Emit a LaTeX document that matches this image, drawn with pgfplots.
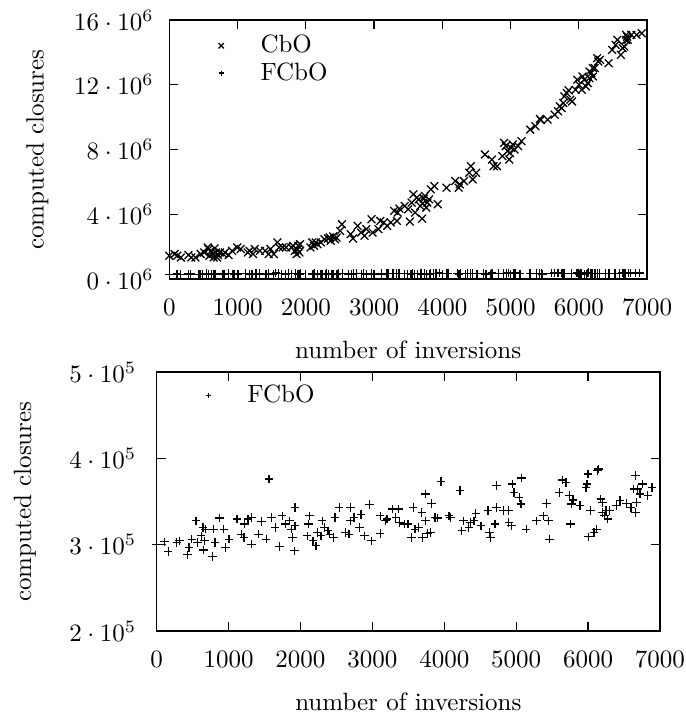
\documentclass[border=0pt]{standalone}
\usepackage{pgfplots}
\usepackage{pgfplotstable}
\pgfplotsset{compat=1.18}

% CbO: computed closures per instance (top panel)
\pgfplotstableread{
x y
0 1.44e6
77 1.54e6
118 1.44e6
169 1.33e6
281 1.48e6
322 1.33e6
383 1.33e6
460 1.54e6
511 1.64e6
562 1.95e6
577 1.85e6
588 1.44e6
613 1.74e6
639 1.54e6
649 1.33e6
664 1.89e6
680 1.64e6
700 1.33e6
715 1.48e6
741 1.64e6
792 1.54e6
817 1.64e6
869 1.48e6
920 1.74e6
996 1.95e6
1047 1.85e6
1150 1.64e6
1175 1.74e6
1226 1.54e6
1252 1.85e6
1328 1.74e6
1405 1.74e6
1456 1.54e6
1482 1.85e6
1533 1.54e6
1584 2.26e6
1609 1.95e6
1660 1.95e6
1712 1.95e6
1788 1.95e6
1814 2.05e6
1839 1.74e6
1865 1.54e6
1875 1.80e6
1890 2.05e6
1906 1.64e6
1916 2.15e6
2069 1.95e6
2095 2.26e6
2120 2.05e6
2146 2.26e6
2171 2.15e6
2222 2.26e6
2274 2.46e6
2325 2.50e6
2350 2.56e6
2365 2.36e6
2401 2.63e6
2427 2.46e6
2452 2.56e6
2503 2.97e6
2529 3.38e6
2657 2.77e6
2692 2.50e6
2759 3.28e6
2810 2.87e6
2861 2.67e6
2887 3.08e6
2963 3.69e6
2979 2.87e6
3065 3.08e6
3091 3.59e6
3142 3.49e6
3193 3.28e6
3244 3.49e6
3295 4.21e6
3336 3.59e6
3346 4.10e6
3372 4.35e6
3449 4.51e6
3500 4.31e6
3525 3.55e6
3551 4.72e6
3576 5.23e6
3602 4.10e6
3627 5.03e6
3653 4.92e6
3678 4.51e6
3704 3.73e6
3714 4.68e6
3730 4.96e6
3745 5.13e6
3765 4.41e6
3781 4.72e6
3806 4.92e6
3832 5.54e6
3883 5.74e6
3934 4.62e6
4062 5.64e6
4189 6.05e6
4240 5.64e6
4256 5.85e6
4317 6.05e6
4394 6.56e6
4419 6.97e6
4445 6.15e6
4496 6.56e6
4624 7.69e6
4726 7.38e6
4751 6.97e6
4802 6.97e6
4879 7.59e6
4905 8.41e6
4930 8.21e6
4956 7.90e6
4981 7.38e6
4991 7.79e6
5007 8.10e6
5032 8.31e6
5058 8.00e6
5109 8.21e6
5160 8.51e6
5288 9.23e6
5364 9.44e6
5431 9.89e6
5441 9.81e6
5543 9.85e6
5645 10.15e6
5697 10.36e6
5722 10.67e6
5748 10.56e6
5773 10.87e6
5788 11.28e6
5824 11.49e6
5850 11.65e6
5875 11.08e6
5901 10.97e6
5952 11.69e6
5978 12.31e6
6003 12.00e6
6044 11.69e6
6054 12.51e6
6080 12.31e6
6105 11.90e6
6131 12.10e6
6156 12.82e6
6156 12.41e6
6182 12.72e6
6207 12.51e6
6207 13.03e6
6233 13.03e6
6269 13.64e6
6284 13.44e6
6310 13.54e6
6437 13.33e6
6488 14.15e6
6540 14.46e6
6565 14.77e6
6616 13.85e6
6642 14.26e6
6667 14.36e6
6693 15.08e6
6693 14.77e6
6708 14.97e6
6718 14.77e6
6769 15.08e6
6846 15.08e6
6922 15.18e6
}\cbo

% FCbO: computed closures per instance (both panels)
\pgfplotstableread{
x y
0 3.006e5
111 3.033e5
160 2.921e5
280 3.026e5
314 3.045e5
425 2.882e5
450 2.967e5
488 3.064e5
546 3.277e5
570 3.026e5
619 3.103e5
643 3.200e5
653 2.937e5
667 3.045e5
682 3.180e5
778 2.863e5
788 3.180e5
812 3.026e5
870 3.308e5
933 3.180e5
957 2.967e5
1005 3.064e5
1117 3.297e5
1175 3.122e5
1213 3.084e5
1223 3.239e5
1271 3.297e5
1320 3.316e5
1320 3.006e5
1416 3.122e5
1455 3.269e5
1523 3.064e5
1561 3.761e5
1600 3.316e5
1648 3.200e5
1706 2.979e5
1745 3.335e5
1793 3.239e5
1851 3.277e5
1876 3.180e5
1890 3.084e5
1914 2.929e5
1924 3.432e5
1924 3.219e5
2093 3.103e5
2108 3.239e5
2127 3.335e5
2175 3.045e5
2214 2.987e5
2238 3.142e5
2287 3.103e5
2301 3.277e5
2335 3.200e5
2383 3.161e5
2407 3.122e5
2456 3.084e5
2480 3.316e5
2538 3.432e5
2625 3.142e5
2673 3.122e5
2697 3.432e5
2697 3.277e5
2746 3.316e5
2818 3.200e5
2842 3.347e5
2891 3.103e5
2963 3.463e5
2987 3.045e5
3108 3.335e5
3108 3.130e5
3181 3.277e5
3205 3.297e5
3277 3.413e5
3326 3.316e5
3364 3.413e5
3374 3.258e5
3447 3.239e5
3495 3.239e5
3543 3.084e5
3568 3.432e5
3592 3.180e5
3640 3.200e5
3688 3.374e5
3698 3.084e5
3737 3.277e5
3737 3.587e5
3766 3.130e5
3809 3.142e5
3824 3.479e5
3872 3.316e5
3906 3.308e5
3954 3.734e5
4065 3.335e5
4085 3.316e5
4220 3.626e5
4244 3.161e5
4268 3.277e5
4341 3.200e5
4365 3.258e5
4413 3.277e5
4438 3.362e5
4510 3.219e5
4607 3.393e5
4631 3.142e5
4641 3.084e5
4704 3.239e5
4728 3.432e5
4728 3.684e5
4824 3.393e5
4897 3.393e5
4897 3.258e5
4936 3.219e5
4945 3.703e5
4969 3.606e5
5042 3.548e5
5066 3.471e5
5076 3.773e5
5139 3.180e5
5284 3.277e5
5380 3.335e5
5419 3.479e5
5453 3.277e5
5467 3.064e5
5598 3.606e5
5646 3.750e5
5694 3.722e5
5743 3.568e5
5757 3.239e5
5767 3.471e5
5791 3.517e5
5888 3.451e5
5970 3.664e5
5985 3.703e5
5999 3.819e5
6009 3.091e5
6033 3.393e5
6081 3.142e5
6115 3.180e5
6130 3.858e5
6144 3.877e5
6178 3.529e5
6202 3.490e5
6202 3.374e5
6226 3.335e5
6250 3.393e5
6275 3.297e5
6299 3.393e5
6396 3.451e5
6444 3.509e5
6531 3.479e5
6598 3.432e5
6637 3.645e5
6661 3.800e5
6661 3.374e5
6676 3.490e5
6686 3.645e5
6724 3.587e5
6758 3.703e5
6831 3.568e5
6889 3.664e5
}\fcbo

\pgfplotsset{
  legmark/.style={legend image code/.code={\draw[##1, mark size=#1] plot coordinates {(0pt,0pt)};}},
  gp/.style={
    scale only axis,
    xmin=0, xmax=7000,
    xtick={0,1000,...,7000},
    scaled ticks=false,
    /pgf/number format/1000 sep={},
    tick align=inside,
    major tick length=3.6pt,
    tick style={line width=0.5pt, black},
    axis line style={line width=0.5pt},
    xticklabel shift=4.5pt,
    clip=false,
    xlabel={number of inversions},
    ylabel={computed closures},
    xlabel style={at={(axis description cs:0.5,0)}, anchor=center, yshift=-28.4pt},
    legend cell align=left,
    legend style={draw=none, fill=none, inner sep=0pt, anchor=north west,
      nodes={inner sep=1.18pt, text depth=0.15em},
      /tikz/every odd column/.append style={column sep=13.5pt}},
  },
}

\begin{document}
\begin{tikzpicture}
\path[use as bounding box] (0pt,0pt) rectangle (274.4pt,-285.2pt);

\begin{axis}[gp,
  at={(67.72pt,-111.6pt)}, anchor=south west,
  width=191.1pt, height=103.6pt,
  ymin=0, ymax=16e6,
  ytick={0,4e6,8e6,12e6,16e6},
  yticklabels={$0\cdot10^6$,$4\cdot10^6$,$8\cdot10^6$,$12\cdot10^6$,$16\cdot10^6$},
  yticklabel shift=2.8pt,
  ylabel style={at={(axis description cs:-0.2763,0.5)}, anchor=center},
  legend style={at={(axis description cs:0.102,0.955)}},
]
\addplot[only marks, mark=x, mark size=2.2pt, mark options={line width=0.5pt}, legmark=1.5pt] table {\cbo};
\addlegendentry{CbO}
\addplot[only marks, mark=+, mark size=1.7pt, mark options={line width=0.5pt}, legmark=1.0pt] table {\fcbo};
\addlegendentry{FCbO}
\end{axis}

\begin{axis}[gp,
  at={(62.68pt,-252.4pt)}, anchor=south west,
  width=201.3pt, height=103.6pt,
  ymin=2e5, ymax=5e5,
  ytick={2e5,3e5,4e5,5e5},
  yticklabels={$2\cdot10^5$,$3\cdot10^5$,$4\cdot10^5$,$5\cdot10^5$},
  yticklabel shift=4.7pt,
  ylabel style={at={(axis description cs:-0.2617,0.5)}, anchor=center},
  legend style={at={(axis description cs:0.0964,0.963)}},
]
\addplot[only marks, mark=+, mark size=1.7pt, mark options={line width=0.5pt}, legmark=1.0pt] table {\fcbo};
\addlegendentry{FCbO}
\end{axis}
\end{tikzpicture}
\end{document}
